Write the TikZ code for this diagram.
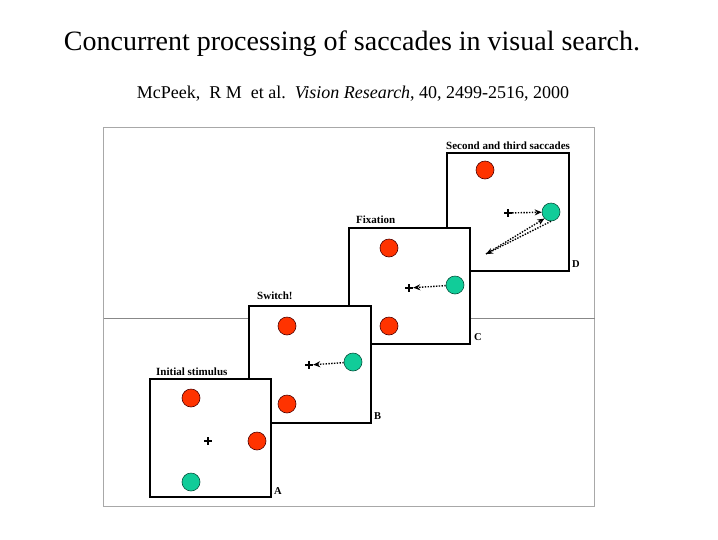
\documentclass[tikz,border=0pt]{standalone}
\usepackage{fontspec}
\setmainfont{Liberation Serif}
\usetikzlibrary{arrows.meta}
\definecolor{dotred}{HTML}{FF3300}
\definecolor{dotgreen}{HTML}{11CC99}
\definecolor{frame}{HTML}{A8A8A8}
\definecolor{midline}{HTML}{888888}
\tikzset{
  panel/.style={draw=black, line width=1.6pt, fill=white},
  reddot/.style={circle, draw=black!70!red, fill=dotred, minimum size=18pt, inner sep=0pt, line width=0.6pt},
  greendot/.style={circle, draw=black!60!dotgreen, fill=dotgreen, minimum size=18pt, inner sep=0pt, line width=0.6pt},
  fix/.style={inner sep=0pt, minimum size=8pt, path picture={\draw[line width=1.6pt] (path picture bounding box.west) -- (path picture bounding box.east) (path picture bounding box.north) -- (path picture bounding box.south);}},
  sacc/.style={dash pattern=on 1.4pt off 1.4pt, line width=1.4pt, -{Stealth[length=7pt,width=6pt]}},
  plabel/.style={font=\fontsize{11}{12}\selectfont\bfseries, inner sep=0pt, anchor=south west},
  letter/.style={font=\fontsize{10.5}{12}\selectfont\bfseries, inner sep=0pt, anchor=south west}
}
\begin{document}
\begin{tikzpicture}[x=1pt,y=-1pt]
\useasboundingbox (0,0) rectangle (718,539);
% titles
\node[font=\fontsize{28}{32}\selectfont, anchor=base] (title) at (352,50) {Concurrent processing of saccades in visual search.};
\node[font=\fontsize{18}{21}\selectfont, anchor=base] (cite) at (353,98) {McPeek,\ \ R M\ \ et al.\ \ \textit{Vision Research}, 40, 2499-2516, 2000};
% frame
\draw[frame, line width=1pt] (103.5,127.5) rectangle (594.5,506.5);
\draw[midline, line width=1pt] (103.5,318) -- (594.5,318);
% panel D
\draw[panel] (447,153) rectangle (569,271);
\node[plabel] (labD) at (446,150) {Second and third saccades};
\node[letter] (letD) at (572,268) {D};
\node[reddot] (d1) at (485,170) {};
\node[greendot] (d2) at (551,212) {};
\node[fix] (dfix) at (508,213) {};
\coordinate (d3) at (486,254);
\draw[sacc] (dfix) -- (d2);
\draw[sacc] (d2.south) -- (d3);
\draw[sacc] (d3) -- (d2.south west);
% panel C
\draw[panel] (349,228) rectangle (470,344);
\node[plabel] (labC) at (356,224) {Fixation};
\node[letter] (letC) at (474,341) {C};
\node[reddot] (c1) at (389,248) {};
\node[reddot] (c2) at (389,326) {};
\node[greendot] (c3) at (455,285) {};
\node[fix] (cfix) at (409,288) {};
\draw[sacc] (c3) -- (cfix);
% panel B
\draw[panel] (249,306) rectangle (371,423);
\node[plabel] (labB) at (257,300) {Switch!};
\node[letter] (letB) at (374,420) {B};
\node[reddot] (b1) at (287,326) {};
\node[reddot] (b2) at (287,404) {};
\node[greendot] (b3) at (353,362) {};
\node[fix] (bfix) at (309,365) {};
\draw[sacc] (b3) -- (bfix);
% panel A
\draw[panel] (150,379) rectangle (271,497);
\node[plabel] (labA) at (156,376) {Initial stimulus};
\node[letter] (letA) at (274,495) {A};
\node[reddot] (a1) at (191,398) {};
\node[reddot] (a2) at (257,441) {};
\node[greendot] (a3) at (191,482) {};
\node[fix] (afix) at (208,441) {};
\end{tikzpicture}
\end{document}
